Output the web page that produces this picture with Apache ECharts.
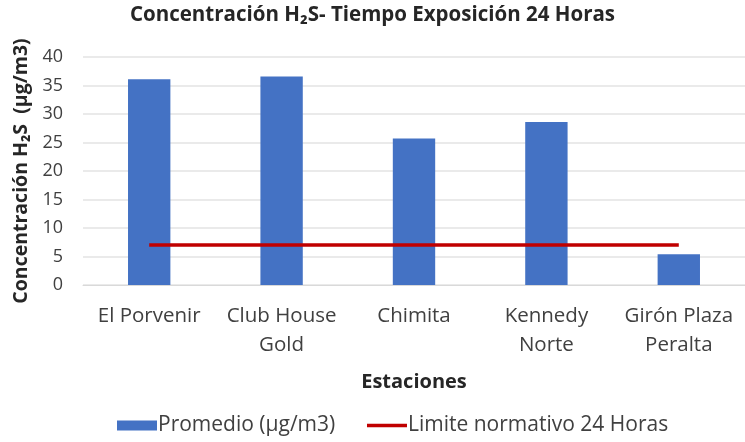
<!DOCTYPE html>
<html>
<head>
<meta charset="utf-8">
<script src="https://cdn.jsdelivr.net/npm/echarts@6/dist/echarts.min.js"></script>
<style>
  html, body { margin: 0; padding: 0; background: #ffffff; }
  #chart { width: 745px; height: 442px; }
</style>
</head>
<body>
<div id="chart"></div>
<script>
// Stations (x categories) and measured H2S averages
const estaciones = ['El Porvenir', 'Club House\nGold', 'Chimita', 'Kennedy\nNorte', 'Girón Plaza\nPeralta'];
const promedio = [36.1, 36.6, 25.7, 28.6, 5.4];
const limite24h = [7, 7, 7, 7, 7];
const yTicks = { min: 0, max: 40, interval: 5 };

const FONT = '"Open Sans", "Noto Sans", sans-serif';

const chart = echarts.init(document.getElementById('chart'), null, { renderer: 'canvas' });

chart.setOption({
  backgroundColor: '#ffffff',
  animation: false,
  textStyle: { fontFamily: FONT },
  title: {
    text: 'Concentración H₂S- Tiempo Exposición 24 Horas',
    left: 'center',
    top: 5,
    padding: 0,
    textStyle: { fontFamily: FONT, fontSize: 20.5, fontWeight: 'bold', color: '#262626' }
  },
  grid: { left: 83, top: 57, width: 669, height: 228, containLabel: false },
  legend: {
    left: 117,
    top: 415,
    padding: 0,
    itemWidth: 40,
    itemHeight: 10,
    itemGap: 30,
    textStyle: { fontFamily: FONT, fontSize: 21, color: '#404040', padding: [0, 0, 0, -4] },
    data: [
      { name: 'Promedio (µg/m3)', icon: 'rect' },
      // plain red stroke as the key, no marker on it
      { name: 'Limite normativo 24 Horas', itemStyle: { opacity: 0 }, lineStyle: { width: 3.5, color: '#C00000' } }
    ]
  },
  xAxis: {
    type: 'category',
    data: estaciones,
    name: 'Estaciones',
    nameLocation: 'middle',
    nameGap: 87,
    nameTextStyle: { fontFamily: FONT, fontSize: 20, fontWeight: 'bold', color: '#262626' },
    axisLine: { show: true, lineStyle: { color: '#d9d9d9', width: 1 } },
    axisTick: { show: false },
    axisLabel: {
      interval: 0,
      margin: 17,
      fontFamily: FONT,
      fontSize: 20.5,
      lineHeight: 29,
      color: '#404040'
    }
  },
  yAxis: {
    type: 'value',
    min: yTicks.min,
    max: yTicks.max,
    interval: yTicks.interval,
    name: 'Concentración H₂S  (µg/m3)',
    nameLocation: 'middle',
    nameGap: 52,
    nameTextStyle: { fontFamily: FONT, fontSize: 19.5, fontWeight: 'bold', color: '#262626' },
    axisLine: { show: false },
    axisTick: { show: false },
    splitLine: { show: true, lineStyle: { color: '#e3e3e3', width: 1.5 } },
    axisLabel: { margin: 20, fontFamily: FONT, fontSize: 18, color: '#404040' }
  },
  series: [
    {
      name: 'Promedio (µg/m3)',
      type: 'bar',
      data: promedio,
      barWidth: '32%',
      itemStyle: { color: '#4472C4' }
    },
    {
      name: 'Limite normativo 24 Horas',
      type: 'line',
      data: limite24h,
      symbol: 'none',
      lineStyle: { color: '#C00000', width: 3.5 },
      itemStyle: { color: '#C00000' }
    }
  ]
});
</script>
</body>
</html>
